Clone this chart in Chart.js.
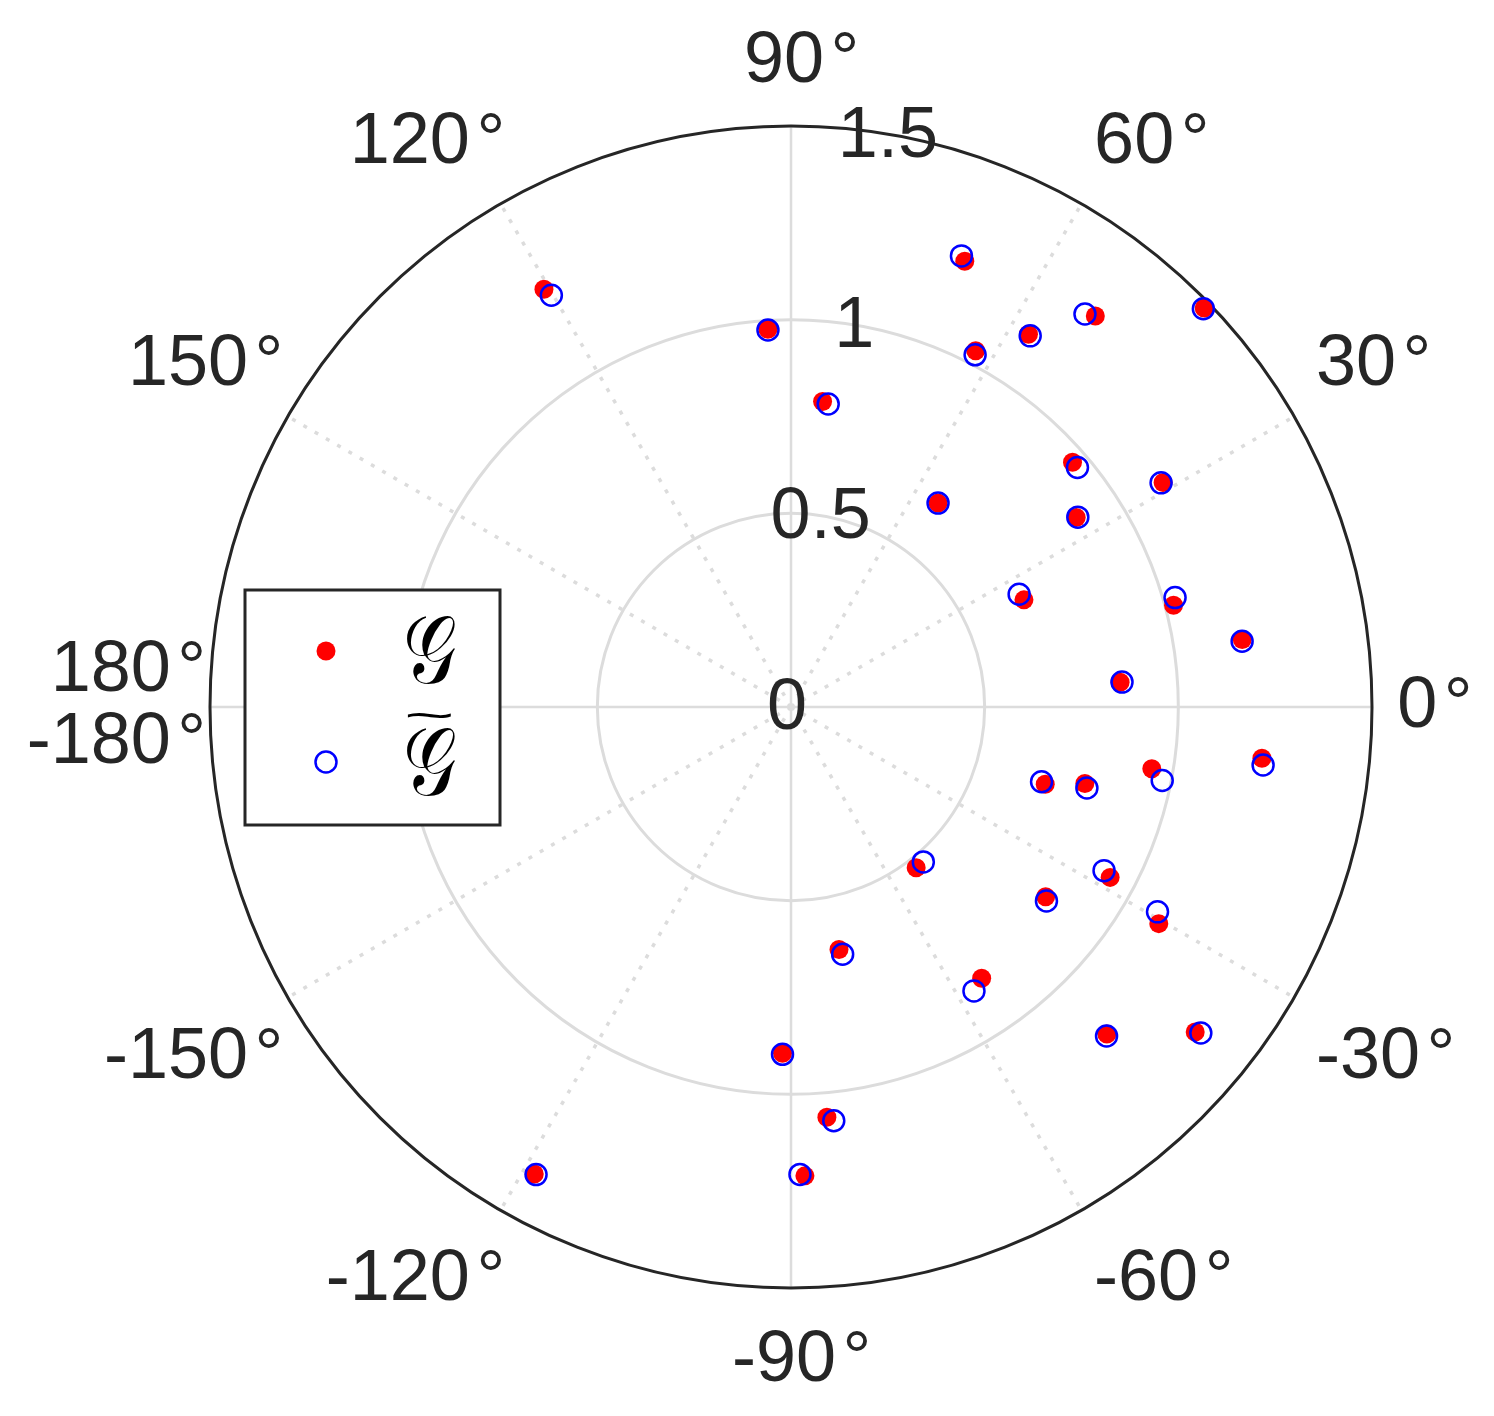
<!DOCTYPE html>
<html>
<head>
<meta charset="utf-8">
<script src="https://cdn.jsdelivr.net/npm/chart.js@4"></script>
<style>
  html, body { margin: 0; padding: 0; background: #fff; }
  #wrap { width: 1494px; height: 1416px; }
</style>
</head>
<body>
<div id="wrap"><canvas id="polar" width="1494" height="1416"></canvas></div>
<script>
// polar data, theta in degrees
const thetaG = [68.7, 120.6, 93.5, 62.6, 57.5, 52.1, 44.0, 84.1, 41.0, 31.1, 54.2, 33.6, 24.7, 14.9, 8.5, 4.3,
  -6.2, -9.7, -16.9, -14.6, -52.1, -28.1, -30.5, -36.7, -78.8, -54.9, -46.0, -38.8, -91.4, -85.0, -118.8, -88.3];
const rG = [1.235, 1.253, 0.977, 1.036, 1.141, 1.279, 1.483, 0.793, 0.963, 1.122, 0.649, 0.884, 0.662, 1.022, 1.178, 0.852,
  1.223, 0.945, 0.686, 0.784, 0.526, 0.934, 1.102, 0.820, 0.638, 0.856, 1.174, 1.339, 0.894, 1.063, 1.376, 1.211];

const thetaGt = [69.3, 120.2, 93.5, 62.4, 57.2, 53.2, 44.0, 83.0, 39.9, 31.2, 54.2, 33.5, 26.3, 15.9, 8.3, 4.3,
  -7.0, -11.2, -16.6, -15.3, -49.5, -27.6, -29.2, -37.2, -78.2, -57.2, -46.2, -38.5, -91.4, -84.1, -118.6, -88.9];
const rGt = [1.245, 1.230, 0.975, 1.026, 1.140, 1.267, 1.480, 0.788, 0.964, 1.117, 0.649, 0.888, 0.657, 1.031, 1.177, 0.857,
  1.228, 0.977, 0.675, 0.792, 0.526, 0.912, 1.084, 0.828, 0.652, 0.872, 1.177, 1.352, 0.897, 1.074, 1.375, 1.207];

const rTicks = [0, 0.5, 1, 1.5];
const rTickLabels = ["0", "0.5", "1", "1.5"];
const thetaTicks = [0, 30, 60, 90, 120, 150, 180, -180, -150, -120, -90, -60, -30];
const thetaTickLabels = ["0", "30", "60", "90", "120", "150", "180", "-180", "-150", "-120", "-90", "-60", "-30"];

const rMax = 1.5;
const rThetaLabel = 1.565;
const rLabelAngle = 80;
const textColor = "#262626";
const gridColor = "#dcdcdc";
const labelFont = "72px 'Liberation Sans', Arial, sans-serif";

function toXY(theta, r) {
  return theta.map((t, i) => {
    const a = t * Math.PI / 180;
    return { x: r[i] * Math.cos(a), y: r[i] * Math.sin(a) };
  });
}

const polarGrid = {
  id: "polarGrid",
  beforeDatasetsDraw(chart) {
    const { ctx, scales } = chart;
    const cx = scales.x.getPixelForValue(0);
    const cy = scales.y.getPixelForValue(0);
    const unit = scales.x.getPixelForValue(1) - cx;
    ctx.save();

    // spokes
    for (let t = -150; t <= 180; t += 30) {
      const a = t * Math.PI / 180;
      ctx.beginPath();
      ctx.moveTo(cx, cy);
      ctx.lineTo(cx + rMax * unit * Math.cos(a), cy - rMax * unit * Math.sin(a));
      ctx.strokeStyle = gridColor;
      if (t % 90 === 0) {
        ctx.setLineDash([]);
        ctx.lineWidth = 2.5;
      } else {
        ctx.setLineDash([4, 9]);
        ctx.lineWidth = 3.5;
      }
      ctx.stroke();
    }
    ctx.setLineDash([]);

    // rings
    rTicks.forEach(v => {
      if (v === 0) return;
      ctx.beginPath();
      ctx.arc(cx, cy, v * unit, 0, Math.PI * 2);
      ctx.strokeStyle = v === rMax ? textColor : gridColor;
      ctx.lineWidth = 3;
      ctx.stroke();
    });
    ctx.restore();
  },
  afterDatasetsDraw(chart) {
    const { ctx, scales } = chart;
    const cx = scales.x.getPixelForValue(0);
    const cy = scales.y.getPixelForValue(0);
    const unit = scales.x.getPixelForValue(1) - cx;
    ctx.save();
    ctx.fillStyle = textColor;
    ctx.font = labelFont;

    // r tick labels
    ctx.textAlign = "center";
    ctx.textBaseline = "middle";
    const ra = rLabelAngle * Math.PI / 180;
    rTicks.forEach((v, i) => {
      ctx.fillText(rTickLabels[i], cx + v * unit * Math.cos(ra) - 4, cy - v * unit * Math.sin(ra) + 2);
    });

    // theta tick labels: number, then a degree sign
    ctx.textAlign = "left";
    thetaTicks.forEach((t, i) => {
      const num = thetaTickLabels[i];
      const a = t * Math.PI / 180;
      const c = Math.cos(a), s = Math.sin(a);
      const ax = cx + rThetaLabel * unit * c;
      let ay = cy - rThetaLabel * unit * s;
      const nw = ctx.measureText(num).width;
      const ew = nw + 14;
      let x;
      if (c > 0.01) x = ax;
      else if (c < -0.01) x = ax - ew - (Math.abs(t) === 180 ? 0 : 4);
      else x = ax - ew / 2;
      if (t === 180) { ay = cy; ctx.textBaseline = "bottom"; }
      else if (t === -180) { ay = cy; ctx.textBaseline = "top"; }
      else if (s > 0.01) { ay -= 3; ctx.textBaseline = "bottom"; }
      else if (s < -0.01) { ay += 12; ctx.textBaseline = "top"; }
      else ctx.textBaseline = "middle";
      ctx.fillText(num, x, ay);
      ctx.fillText("\u00b0", x + nw + 6.5, ay);
    });

    // legend box
    const lx = 245, ly = 590, lw = 255, lh = 235;
    ctx.fillStyle = "#fff";
    ctx.fillRect(lx, ly, lw, lh);
    ctx.lineWidth = 3;
    ctx.strokeStyle = textColor;
    ctx.strokeRect(lx, ly, lw, lh);

    ctx.beginPath();
    ctx.arc(326, 651, 9.5, 0, Math.PI * 2);
    ctx.fillStyle = "#ff0000";
    ctx.fill();

    ctx.beginPath();
    ctx.arc(326, 762, 10.5, 0, Math.PI * 2);
    ctx.strokeStyle = "#0000ff";
    ctx.lineWidth = 2.5;
    ctx.stroke();

    ctx.fillStyle = "#000";
    ctx.textAlign = "left";
    ctx.textBaseline = "alphabetic";
    ctx.font = "96px 'DejaVu Serif', 'DejaVu Sans', serif";
    [683, 795].forEach(by => {
      ctx.save();
      ctx.translate(403, by);
      ctx.scale(0.78, 1);
      ctx.fillText("\u{1D4A2}", 0, 0);
      ctx.restore();
    });
    ctx.save();
    ctx.translate(404, 730);
    ctx.scale(1.55, 0.75);
    ctx.font = "56px 'Liberation Sans', sans-serif";
    ctx.fillText("~", 0, 0);
    ctx.restore();
    ctx.restore();
  }
};

const ctx = document.getElementById("polar").getContext("2d");
new Chart(ctx, {
  type: "scatter",
  data: {
    datasets: [
      {
        label: "G",
        data: toXY(thetaG, rG),
        pointRadius: 9.5,
        pointBorderWidth: 0,
        pointBackgroundColor: "#ff0000",
        pointBorderColor: "#ff0000",
        order: 2
      },
      {
        label: "G~",
        data: toXY(thetaGt, rGt),
        pointRadius: 10.5,
        pointBorderWidth: 2.5,
        pointBackgroundColor: "rgba(0,0,0,0)",
        pointBorderColor: "#0000ff",
        order: 1
      }
    ]
  },
  options: {
    responsive: false,
    animation: false,
    clip: false,
    layout: { padding: { left: 210, right: 122, top: 126, bottom: 128 } },
    scales: {
      x: { type: "linear", min: -rMax, max: rMax, display: false },
      y: { type: "linear", min: -rMax, max: rMax, display: false }
    },
    plugins: {
      legend: { display: false },
      tooltip: { enabled: false }
    }
  },
  plugins: [polarGrid]
});
</script>
</body>
</html>
